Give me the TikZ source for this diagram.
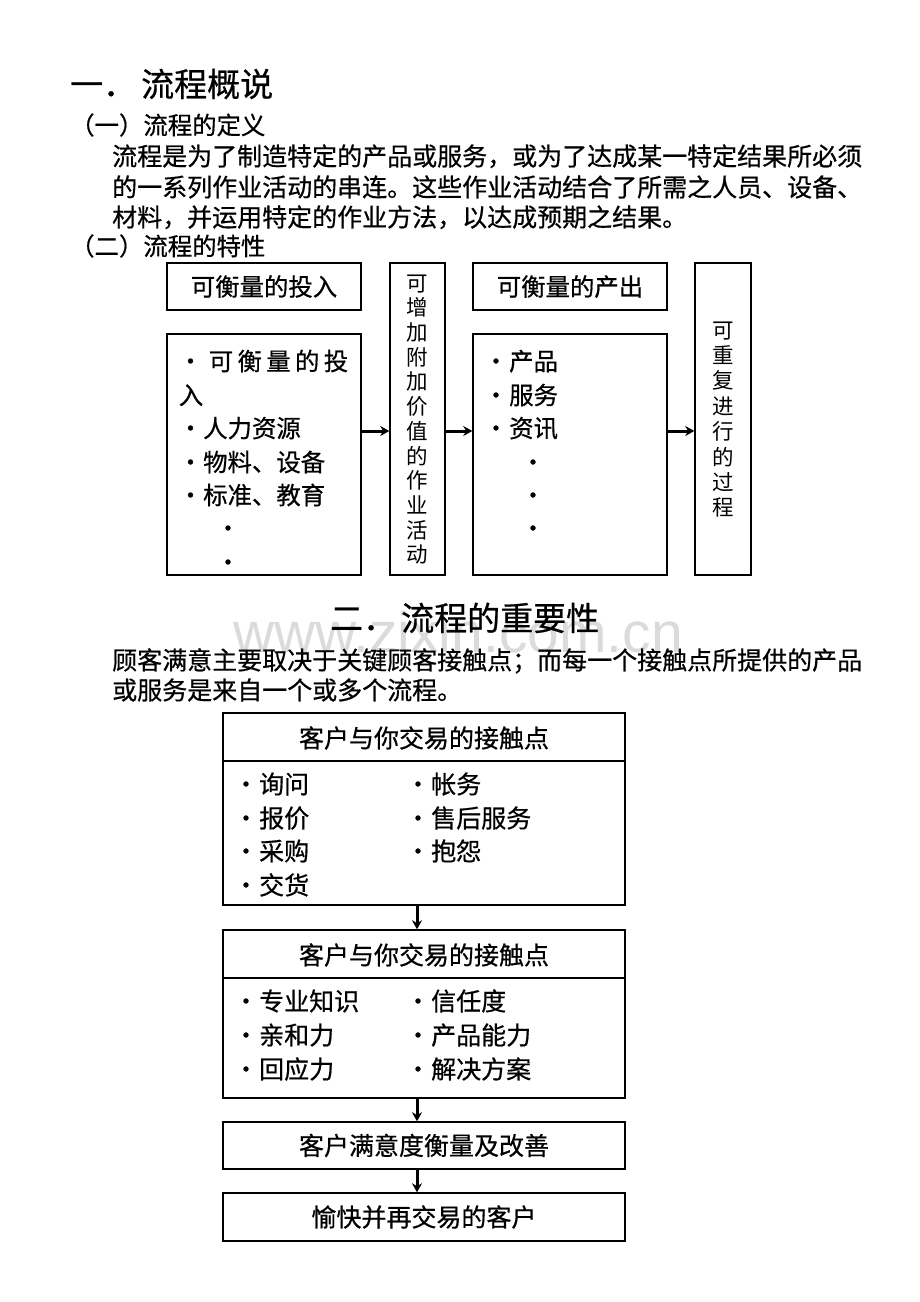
\documentclass[tikz,border=0pt]{standalone}
\usepackage{fontspec}
\setmainfont{Noto Sans CJK SC}[FakeBold=0.6]
\newfontfamily\lightcjk{Noto Sans CJK SC}
\newfontfamily\wmfont{Liberation Sans}
\usetikzlibrary{arrows.meta}
\begin{document}
\begin{tikzpicture}[x=1pt,y=-1pt,
  t25/.style={inner sep=0pt, font=\fontsize{25}{29}\selectfont, text height=22pt, text depth=3pt},
  t24/.style={inner sep=0pt, font=\fontsize{24.4}{28}\selectfont, text height=21.5pt, text depth=2.9pt},
  t33/.style={inner sep=0pt, font=\fontsize{33}{38}\selectfont, text height=29pt, text depth=4pt},
  box/.style={draw=black, line width=1.5pt, inner sep=0pt},
  arr/.style={line width=3pt, -{Stealth[length=9pt,width=10pt]}},
  dot/.style={inner sep=0pt, font=\fontsize{24}{28}\selectfont, text height=21.1pt, text depth=2.9pt},
  vt/.style={inner sep=0pt, font=\lightcjk\fontsize{21.5}{24}\selectfont, text height=18.9pt, text depth=2.6pt}
]
\useasboundingbox[fill=white] (0,0) rectangle (920,1302);

% watermark
\node[inner sep=0pt, text=black!14, font=\wmfont\fontsize{57}{62}\selectfont, anchor=base] (wm) at (458,652) {www.zixin.com.cn};

% headings and paragraph
\node[t33, anchor=west] (h1a) at (70,84) {一．};
\node[t33, anchor=west] (h1b) at (141,84) {流程概说};
\node[t24, anchor=west] (s1) at (70,125) {（一）流程的定义};
\node[t25, anchor=west] (p1) at (112,156) {流程是为了制造特定的产品或服务，或为了达成某一特定结果所必须};
\node[t25, anchor=west] (p2) at (112,187) {的一系列作业活动的串连。这些作业活动结合了所需之人员、设备、};
\node[t25, anchor=west] (p3) at (112,217) {材料，并运用特定的作业方法，以达成预期之结果。};
\node[t24, anchor=west] (s2) at (70,246) {（二）流程的特性};

% section 1 boxes
\node[box, minimum width=194pt, minimum height=47pt, t24] (A) at (264,286.5) {可衡量的投入};
\node[box, minimum width=194pt, minimum height=241pt] (B) at (264,454.5) {};
\node[box, minimum width=55pt, minimum height=312pt] (C) at (417.5,419) {};
\node[box, minimum width=194pt, minimum height=47pt, t24] (D) at (570,286.5) {可衡量的产出};
\node[box, minimum width=194pt, minimum height=241pt] (E) at (570,454.5) {};
\node[box, minimum width=56pt, minimum height=312pt] (F) at (723,419) {};

% box B content
\node[dot] (bb0) at (190.5,361) {·};
\foreach \c [count=\i from 0] in {可,衡,量,的,投}
  \node[t24] (bc\i) at (221+28.75*\i,361) {\c};
\node[t24] (bru) at (191,395) {入};
\node[dot] (bb1) at (190.5,428) {·};
\node[t24, anchor=west] (bt1) at (203,428) {人力资源};
\node[dot] (bb2) at (190.5,462) {·};
\node[t24, anchor=west] (bt2) at (203,462) {物料、设备};
\node[dot] (bb3) at (190.5,495) {·};
\node[t24, anchor=west] (bt3) at (203,495) {标准、教育};
\node[dot] (bd1) at (228,528) {·};
\node[dot] (bd2) at (228,562) {·};

% box C vertical text
\foreach \c [count=\i from 0] in {可,增,加,附,加,价,值,的,作,业,活,动}
  \node[vt] (cc\i) at (417.5,283+24.7*\i) {\c};

% box E content
\node[dot] (eb1) at (496,361) {·};
\node[t24, anchor=west] (et1) at (509,361) {产品};
\node[dot] (eb2) at (496,395) {·};
\node[t24, anchor=west] (et2) at (509,395) {服务};
\node[dot] (eb3) at (496,428) {·};
\node[t24, anchor=west] (et3) at (509,428) {资讯};
\node[dot] (ed1) at (533,462) {·};
\node[dot] (ed2) at (533,495) {·};
\node[dot] (ed3) at (533,528) {·};

% box F vertical text
\foreach \c [count=\i from 0] in {可,重,复,进,行,的,过,程}
  \node[vt] (fc\i) at (723,330+25.4*\i) {\c};

% arrows section 1
\coordinate (ya) at (0,431);
\draw[arr] (B.east |- ya) -- (C.west |- ya);
\draw[arr] (C.east |- ya) -- (E.west |- ya);
\draw[arr] (E.east |- ya) -- (F.west |- ya);

% section 2
\node[t33, anchor=west] (h2a) at (330,618) {二．};
\node[t33, anchor=west] (h2b) at (401,618) {流程的重要性};
\node[t25, anchor=west] (q1) at (112,660) {顾客满意主要取决于关键顾客接触点；而每一个接触点所提供的产品};
\node[t25, anchor=west] (q2) at (112,690) {或服务是来自一个或多个流程。};

% bottom boxes
\node[box, minimum width=402pt, minimum height=192pt] (K1) at (424,809) {};
\coordinate (s1y) at (0,761);
\draw[line width=1.5pt] (K1.west |- s1y) -- (K1.east |- s1y);
\node[t25] (k1h) at (424,738) {客户与你交易的接触点};
\foreach \t/\y [count=\i] in {询问/784, 报价/818, 采购/851, 交货/885} {
  \node[dot] (k1lb\i) at (246,\y) {·};
  \node[t25, anchor=west] (k1lt\i) at (259,\y) {\t};
}
\foreach \t/\y [count=\i] in {帐务/784, 售后服务/818, 抱怨/851} {
  \node[dot] (k1rb\i) at (418,\y) {·};
  \node[t25, anchor=west] (k1rt\i) at (431,\y) {\t};
}

\node[box, minimum width=402pt, minimum height=168pt] (K2) at (424,1014) {};
\coordinate (s2y) at (0,978);
\draw[line width=1.5pt] (K2.west |- s2y) -- (K2.east |- s2y);
\node[t25] (k2h) at (424,955) {客户与你交易的接触点};
\foreach \t/\y [count=\i] in {专业知识/1001, 亲和力/1035, 回应力/1069} {
  \node[dot] (k2lb\i) at (246,\y) {·};
  \node[t25, anchor=west] (k2lt\i) at (259,\y) {\t};
}
\foreach \t/\y [count=\i] in {信任度/1001, 产品能力/1035, 解决方案/1069} {
  \node[dot] (k2rb\i) at (418,\y) {·};
  \node[t25, anchor=west] (k2rt\i) at (431,\y) {\t};
}

\node[box, minimum width=402pt, minimum height=47pt, t25] (K3) at (424,1145.5) {客户满意度衡量及改善};
\node[box, minimum width=402pt, minimum height=48pt, t25] (K4) at (424,1217) {愉快并再交易的客户};

\coordinate (ax) at (417,0);
\draw[arr] (K1.south -| ax) -- (K2.north -| ax);
\draw[arr] (K2.south -| ax) -- (K3.north -| ax);
\draw[arr] (K3.south -| ax) -- (K4.north -| ax);
\end{tikzpicture}
\end{document}
